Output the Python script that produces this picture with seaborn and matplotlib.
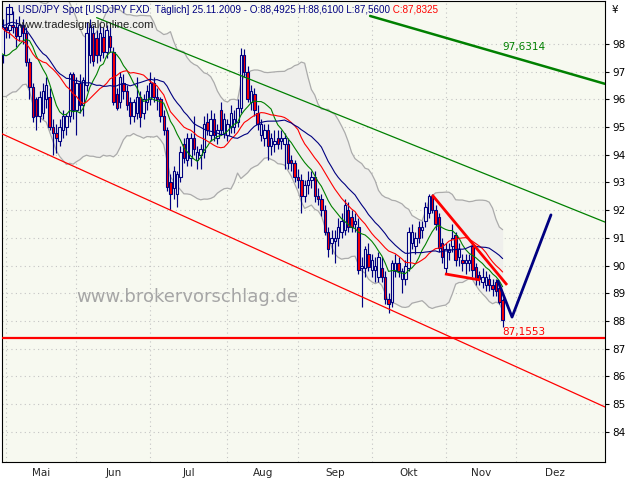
import numpy as np
import pandas as pd
import matplotlib
matplotlib.use('Agg')
import matplotlib.pyplot as plt
from matplotlib.lines import Line2D
from matplotlib.patches import Rectangle
import seaborn as sns

# Schlusskurse 25.03.-29.04.2009, nur als Vorlauf fuer die Indikatoren
warmup_closes = [97.8, 98.5, 97.9, 96.9, 98.0,
                 99.1, 99.6, 100.2,
                 100.8, 100.5, 99.8, 100.4, 100.3,
                 99.9, 98.6, 98.9, 99.4, 99.1,
                 98.1, 97.4, 97.6, 97.1, 97.2,
                 96.7, 96.9, 97.6]

# Tageskerzen USD/JPY, 30.04.2009 bis 25.11.2009
opens = [97.6,
         98.6, 98.5, 98.7, 98.6, 98.3, 98.7, 98.4, 97.35, 96.45, 96.0, 95.4, 95.5, 96.0, 96.1, 95.0, 94.8, 94.5, 94.9, 95.0, 95.4, 96.9,
         95.6, 96.6, 95.8, 96.5, 97.6, 98.4, 98.2, 97.6, 98.25, 97.7, 98.3, 97.7, 96.2, 95.9, 96.6, 96.3, 95.9, 95.4, 95.5, 96.1, 95.5, 95.9,
         96.0, 96.6, 96.1, 96.0, 95.4, 94.9, 93.0, 92.8, 92.6, 93.2, 94.4, 93.8, 93.9, 94.6, 93.8, 94.0, 94.1, 95.2, 94.7, 95.3, 94.6, 95.6, 94.8,
         94.7, 95.0, 95.0, 95.2, 95.7, 97.6, 97.0, 95.9, 96.2, 95.5, 94.7, 94.6, 94.9, 94.3, 94.4, 94.6, 94.5, 94.4, 94.4, 93.8, 93.7,
         93.2, 93.1, 92.5, 92.9, 93.1, 93.2, 92.5, 92.4, 92.0, 91.2, 90.8, 90.9, 91.0, 91.2, 91.3, 92.0, 91.75, 91.5, 91.4, 89.9, 89.9, 90.4,
         89.85, 89.85, 89.6, 89.9, 89.6, 88.8, 88.7, 89.8, 90.1, 89.5, 89.5, 89.9, 90.8, 90.7, 91.4, 91.3, 91.6, 91.9, 92.5, 92.0, 91.75, 90.8,
         89.9, 90.5, 90.7, 91.1, 90.3, 90.2, 90.1, 90.1, 90.7, 89.95, 89.65, 89.4, 89.3, 89.5, 89.3, 89.4, 89.2, 88.76]
highs = [98.9,
         99.1, 99.0, 99.2, 98.9, 99.0, 98.9, 98.6, 97.5, 96.6, 96.1, 96.3, 96.6, 96.8, 96.4, 95.3, 95.1, 95.3, 95.6, 95.5, 97.0, 97.0,
         96.8, 96.9, 96.8, 98.8, 98.9, 98.7, 98.5, 98.7, 98.6, 98.7, 98.6, 97.9, 96.4, 97.0, 96.9, 96.5, 96.1, 96.0, 96.8, 96.3, 96.2, 96.5,
         97.0, 96.8, 96.4, 96.1, 95.6, 95.0, 93.3, 93.6, 93.4, 94.3, 94.6, 94.8, 94.8, 95.4, 94.3, 94.4, 95.4, 95.5, 95.6, 95.5, 95.1, 95.9, 95.5,
         95.3, 95.8, 95.6, 96.0, 97.85, 97.8, 97.2, 96.5, 96.4, 95.8, 95.3, 95.1, 95.1, 94.8, 94.9, 94.9, 94.9, 94.8, 94.6, 94.0, 93.8,
         93.5, 93.3, 93.1, 93.4, 93.4, 93.4, 92.8, 92.6, 92.2, 91.4, 91.3, 91.3, 91.7, 91.9, 92.4, 92.3, 92.0, 91.9, 91.7, 90.3, 90.7, 90.8,
         90.4, 90.3, 90.5, 90.3, 89.8, 89.0, 90.2, 90.4, 90.3, 89.9, 90.2, 91.4, 91.5, 91.2, 91.6, 91.6, 92.3, 92.6, 92.6, 92.2, 91.9, 91.0,
         90.8, 90.8, 91.5, 91.2, 90.8, 90.4, 90.4, 90.4, 90.8, 90.1, 89.8, 89.9, 89.8, 89.7, 89.5, 89.5, 89.3, 88.83]
lows = [97.3,
        98.2, 98.2, 98.4, 97.9, 98.1, 98.0, 97.2, 96.0, 95.2, 94.9, 95.2, 95.3, 95.7, 94.9, 94.0, 94.05, 94.3, 94.6, 94.7, 95.2, 95.3,
        94.7, 95.5, 95.4, 96.3, 97.3, 97.2, 97.3, 97.4, 97.5, 97.5, 97.7, 95.8, 95.6, 95.7, 96.0, 95.6, 95.1, 95.2, 95.3, 95.0, 95.3, 95.6,
        95.8, 95.9, 95.6, 95.2, 94.7, 92.7, 92.0, 92.4, 92.1, 93.0, 93.7, 93.6, 93.6, 94.0, 93.5, 93.5, 93.9, 94.7, 94.5, 94.5, 94.4, 94.7, 94.6,
        94.5, 94.8, 94.8, 95.0, 95.5, 96.8, 95.9, 95.6, 95.4, 94.9, 94.5, 94.3, 93.8, 94.0, 94.1, 94.2, 94.2, 93.5, 93.5, 93.4, 93.0,
        92.8, 91.9, 92.3, 92.6, 92.8, 92.3, 92.2, 91.8, 91.1, 90.3, 90.4, 90.1, 90.7, 91.0, 91.1, 91.2, 91.2, 91.2, 89.7, 88.5, 89.6, 89.8,
        89.6, 89.4, 89.4, 89.4, 88.6, 88.3, 88.5, 89.6, 89.6, 89.0, 89.3, 89.8, 90.6, 90.4, 90.8, 91.0, 91.4, 91.7, 91.9, 91.3, 90.5, 90.1,
        89.7, 90.2, 90.5, 90.0, 90.0, 89.8, 89.7, 89.8, 89.6, 89.3, 89.3, 89.2, 89.1, 89.1, 88.9, 88.9, 88.6, 87.78]
closes = [98.6,
          98.5, 98.7, 98.6, 98.3, 98.7, 98.4, 97.35, 96.45, 95.35, 95.4, 96.1, 96.3, 96.5, 95.0, 94.8, 94.6, 95.0, 95.4, 95.4, 96.9, 95.6,
          96.6, 95.8, 96.7, 98.4, 98.6, 97.4, 97.6, 98.4, 97.7, 98.5, 97.9, 95.9, 95.7, 96.8, 96.3, 95.8, 95.4, 95.9, 96.1, 95.35, 96.0, 96.3,
          96.6, 96.1, 96.0, 95.4, 94.9, 92.85, 92.6, 93.4, 93.3, 94.1, 93.9, 94.6, 94.6, 94.2, 94.1, 94.2, 95.1, 94.9, 95.3, 94.7, 94.9, 94.9, 95.3,
          95.1, 95.5, 95.3, 95.7, 97.6, 97.0, 96.0, 96.3, 95.6, 95.1, 95.1, 94.9, 94.3, 94.6, 94.5, 94.4, 94.6, 94.6, 93.7, 93.7, 93.2,
          93.1, 92.5, 92.9, 93.1, 93.2, 92.5, 92.4, 92.0, 91.2, 90.6, 91.0, 91.0, 91.4, 91.6, 92.2, 91.4, 91.4, 91.6, 89.85, 90.0, 90.6, 89.95,
          90.2, 90.0, 90.3, 89.6, 88.8, 88.6, 90.1, 90.1, 89.8, 89.8, 90.0, 91.2, 91.2, 91.0, 91.0, 91.4, 92.1, 92.5, 92.0, 91.5, 90.65, 90.3,
          90.6, 90.6, 91.0, 90.2, 90.6, 90.1, 90.2, 90.2, 89.85, 89.5, 89.5, 89.6, 89.6, 89.3, 89.15, 89.1, 88.7, 88.04]

month_names = ['Mai', 'Jun', 'Jul', 'Aug', 'Sep', 'Okt', 'Nov', 'Dez']
price_ticks = list(range(84, 99))

# Trendlinien (Handelstag-Index ab 01.05.2009, Kurs)
support_line = ([0, 150], [94.69, 86.46])
resistance_line = ([27, 178.5], [98.95, 91.57])
upper_line = ([108.5, 178.5], [99.01, 96.56])
level_line = 87.39
wedge_top = ([127.0, 149.3], [92.55, 89.30])
wedge_bottom = ([130.8, 141.3], [89.70, 89.48])
projection = ([146.6, 150.8, 162.4], [89.44, 88.14, 91.83])

NAVY = '#000080'
RED = '#ff0000'
GREEN = '#008000'
BG = '#f7f9f0'
BAND = '#efefec'

sns.set_style('white')
plt.rcParams['font.family'] = ['DejaVu Sans']

fig = plt.figure(figsize=(6.4, 4.8), dpi=100)
fig.patch.set_facecolor('white')
ax = fig.add_axes([2 / 640, 18 / 480, 603 / 640, 461 / 480])
ax.set_facecolor(BG)

# Indikatoren
x_all = np.arange(-1 - len(warmup_closes), len(closes) - 1)
series = pd.Series(warmup_closes + closes, index=x_all)
ma_fast = series.rolling(10).mean()
ma_mid = series.rolling(18).mean()
ma_slow = series.rolling(25).mean()
bb_mid = series.rolling(20).mean()
bb_sd = series.rolling(20).std(ddof=0)
bb_up = bb_mid + 2 * bb_sd
bb_low = bb_mid - 2 * bb_sd

ax.fill_between(x_all, bb_low, bb_up, color=BAND, lw=0, zorder=1)
for band in (bb_up, bb_low):
    sns.lineplot(x=x_all, y=band.values, ax=ax, color='#ababab', lw=0.9, zorder=2)

# Kerzen
xc = np.arange(-1, len(closes) - 1)
o, h, l, c = map(np.array, (opens, highs, lows, closes))
rising = c >= o
ax.vlines(xc, l, h, color=NAVY, lw=0.85, zorder=3)
ax.bar(xc, np.maximum(np.abs(c - o), 0.04), bottom=np.minimum(o, c), width=0.72,
       color=np.where(rising, BG, RED), edgecolor=NAVY, linewidth=0.8, zorder=4)

sns.lineplot(x=x_all, y=ma_fast.values, ax=ax, color=GREEN, lw=0.8, zorder=5)
sns.lineplot(x=x_all, y=ma_mid.values, ax=ax, color=RED, lw=0.8, zorder=5)
sns.lineplot(x=x_all, y=ma_slow.values, ax=ax, color=NAVY, lw=0.8, zorder=5)

# Trendlinien
ax.axline((support_line[0][0], support_line[1][0]), (support_line[0][1], support_line[1][1]),
          color=RED, lw=0.9, zorder=6)
ax.plot(*resistance_line, color=GREEN, lw=0.9, zorder=6)
ax.plot(*upper_line, color=GREEN, lw=1.8, zorder=6)
ax.axhline(level_line, color=RED, lw=1.6, zorder=6)
ax.plot(*wedge_top, color=RED, lw=2.0, zorder=6, solid_capstyle='butt')
ax.plot(*wedge_bottom, color=RED, lw=2.0, zorder=6, solid_capstyle='butt')
ax.plot(*projection, color=NAVY, lw=2.0, zorder=6)
ax.text(147.8, 97.89, '97,6314', color=GREEN, fontsize=7.5, va='center', ha='left', zorder=7)
ax.text(147.8, 87.60, '87,1553', color=RED, fontsize=7.5, va='center', ha='left', zorder=7)

# Achsen
ax.set_xlim(-1.19, 178.5)
ax.set_ylim(82.91, 99.55)
ax.yaxis.tick_right()
ax.set_yticks(price_ticks)
ax.set_yticklabels([str(p) for p in price_ticks])
ax.tick_params(axis='y', length=3, width=0.8, pad=2, labelsize=7.5, colors='black')

days = pd.bdate_range('2009-05-01', '2010-01-29')
pos = np.arange(len(days))
starts = [int(p) for p, d, prev in zip(pos, days, [None] + list(days[:-1]))
          if prev is None or d.month != prev.month]
starts = starts[:len(month_names) + 1]
mids = [(a + b) / 2 for a, b in zip(starts[:-1], starts[1:])]
ax.set_xticks(starts[:-1])
ax.set_xticklabels([])
ax.set_xticks(mids, minor=True)
ax.set_xticklabels(month_names, minor=True)
ax.tick_params(axis='x', which='major', length=4, width=0.8, direction='out', colors='black')
ax.tick_params(axis='x', which='minor', length=0, pad=4, labelsize=7.5)

ax.grid(True, which='major', color='#c4c4c4', linestyle=(0, (1, 3)), lw=0.8)
ax.set_axisbelow(True)
for s in ax.spines.values():
    s.set_color('black')
    s.set_linewidth(0.8)
ax.set_xlabel('')
ax.set_ylabel('')

# Beschriftungen
title = fig.text(18 / 640, 1 - 10 / 480,
                 'USD/JPY Spot [USDJPY FXD  T\u00e4glich] 25.11.2009 - O:88,4925 H:88,6100 L:87,5600',
                 color=NAVY, fontsize=7.1, family='Liberation Sans', va='center', ha='left')
fig.canvas.draw()
ax.annotate(' C:87,8325', xy=(1, 0.5), xycoords=title, color=RED, fontsize=7.1,
            family='Liberation Sans', va='center', ha='left', annotation_clip=False)
fig.text(18 / 640, 1 - 25 / 480, 'www.tradesignalonline.com', color='#202020',
         fontsize=8, family='Liberation Sans', va='center', ha='left')
fig.text(187 / 640, 1 - 297 / 480, 'www.brokervorschlag.de', color='#a6a6a6',
         fontsize=13, va='center', ha='center')
fig.text(612 / 640, 1 - 10 / 480, '\u00a5', color='black', fontsize=7.5, va='center', ha='left')
fig.add_artist(Rectangle((6 / 640, 1 - 14 / 480), 6 / 640, 7 / 480, transform=fig.transFigure,
                         facecolor='none', edgecolor=NAVY, lw=0.8))
fig.add_artist(Line2D([9 / 640, 9 / 640], [1 - 17 / 480, 1 - 4 / 480], transform=fig.transFigure,
                      color=NAVY, lw=0.8))

fig.savefig('out.png', dpi=100)
